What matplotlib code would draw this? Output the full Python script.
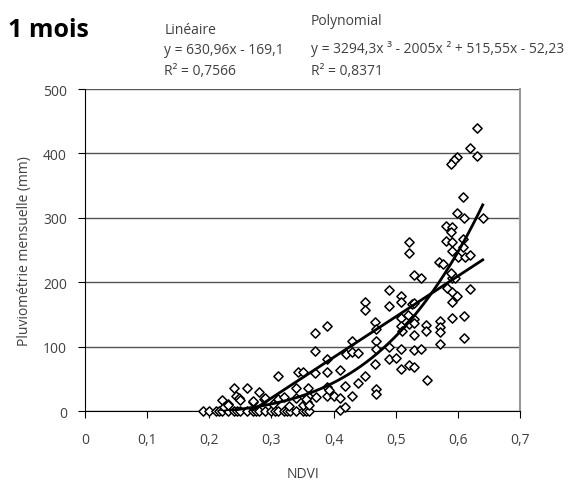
import numpy as np
import matplotlib
matplotlib.use("Agg")
import matplotlib.pyplot as plt

plt.rcParams['font.family'] = ['Open Sans', 'DejaVu Sans']

# NDVI values with zero rainfall
ndvi_zero = [0.19, 0.20, 0.21, 0.215, 0.22, 0.23, 0.24, 0.245, 0.25, 0.26, 0.27, 0.275,
             0.28, 0.29, 0.30, 0.305, 0.31, 0.32, 0.325, 0.33, 0.34, 0.35, 0.355, 0.36]

# other points (NDVI, pluviometry mm)
ndvi = [0.22, 0.224, 0.23, 0.23, 0.24, 0.243, 0.248, 0.25, 0.26, 0.27, 0.27, 0.28, 0.288, 0.29,
        0.302, 0.31, 0.31, 0.32, 0.329, 0.34, 0.34, 0.342, 0.351, 0.35, 0.358, 0.359, 0.359, 0.355,
        0.36, 0.37, 0.37, 0.37, 0.371, 0.39, 0.39, 0.39, 0.39, 0.39, 0.393, 0.40, 0.41, 0.41, 0.411,
        0.418, 0.419, 0.42, 0.43, 0.43, 0.43, 0.44, 0.44, 0.45, 0.451, 0.451, 0.467, 0.468, 0.468,
        0.468, 0.467, 0.468, 0.468, 0.489, 0.489, 0.489, 0.489, 0.50, 0.509, 0.509, 0.509, 0.509,
        0.51, 0.509, 0.509, 0.52, 0.521, 0.521, 0.521, 0.521, 0.526, 0.53, 0.54, 0.53, 0.53, 0.53,
        0.53, 0.53, 0.53, 0.54, 0.549, 0.549, 0.55, 0.569, 0.576, 0.571, 0.571, 0.571, 0.571,
        0.581, 0.59, 0.589, 0.581, 0.59, 0.59, 0.582, 0.591, 0.598, 0.59, 0.59, 0.59, 0.596, 0.589,
        0.60, 0.609, 0.609, 0.61, 0.598, 0.609, 0.612, 0.62, 0.62, 0.61, 0.61, 0.64, 0.631, 0.62,
        0.631, 0.599, 0.594, 0.589]
pluvio = [17, 6, 11, 9, 35, 23, 20, 17, 35, 14, 16, 29, 19, 20,
          11, 55, 18, 22, 8, 35, 20, 60, 60, 9, 14, 35, 24, 19,
          9, 121, 93, 59, 21, 132, 81, 61, 37, 23, 32, 24, 63, 20, 1,
          39, 6, 88, 109, 91, 23, 90, 44, 55, 169, 157, 138, 127, 109,
          97, 73, 34, 26, 188, 163, 99, 81, 83, 179, 170, 145, 132,
          124, 97, 66, 149, 135, 71, 262, 245, 166, 211, 206, 168, 143, 137,
          118, 94, 68, 97, 134, 124, 48, 232, 228, 140, 131, 122, 104,
          288, 285, 278, 264, 262, 249, 191, 185, 179, 170, 144, 207, 206, 215,
          239, 267, 254, 299, 308, 332, 239, 242, 190, 148, 114, 299, 439, 408,
          396, 395, 389, 383]

# trendline coefficients (from the chart labels)
lin_coef = [630.96, -169.1]
poly_coef = [3294.3, -2005, 515.55, -52.23]

x_all = np.array(ndvi_zero + ndvi)
y_all = np.array([0] * len(ndvi_zero) + pluvio)

fig = plt.figure(figsize=(5.76, 4.85), dpi=100)
ax = fig.add_axes([0.1476, 0.1505, 0.7552, 0.6639])

ax.set_xlim(0, 0.7)
ax.set_ylim(0, 500)
ax.set_xticks(np.arange(0, 0.71, 0.1))
ax.set_xticklabels(['0', '0,1', '0,2', '0,3', '0,4', '0,5', '0,6', '0,7'])
ax.set_yticks(range(0, 501, 100))
ax.yaxis.grid(True, color='#555555', linewidth=1)
ax.set_axisbelow(True)

ax.spines['top'].set_visible(False)
ax.spines['right'].set_color('#999999')
ax.spines['right'].set_linewidth(1.5)
ax.spines['left'].set_color('black')
ax.spines['bottom'].set_color('black')

ax.tick_params(axis='both', direction='out', length=5, color='black',
               labelsize=10, labelcolor='#404040')
ax.tick_params(axis='x', pad=10)
ax.tick_params(axis='y', pad=8)

ax.scatter(x_all, y_all, marker='D', s=22, facecolor='white', edgecolor='black',
           linewidth=1.1, zorder=3, clip_on=False)

xs = np.linspace(x_all.min(), x_all.max(), 200)
ax.plot(xs, np.polyval(lin_coef, xs), color='black', lw=2, zorder=4)
ax.plot(xs, np.polyval(poly_coef, xs), color='black', lw=2, zorder=4)

ax.set_xlabel('NDVI', fontsize=10, color='#404040', labelpad=14)
ax.set_ylabel('Pluviométrie mensuelle (mm)', fontsize=10, color='#404040', labelpad=8)

fig.text(0.014, 0.937, '1 mois', fontsize=18, fontweight='bold', color='black', va='center')
tc = '#404040'
fig.text(0.285, 0.938, 'Linéaire', fontsize=10, color=tc, va='center')
fig.text(0.285, 0.895, 'y = 630,96x - 169,1', fontsize=10, color=tc, va='center')
fig.text(0.285, 0.852, 'R² = 0,7566', fontsize=10, color=tc, va='center')
fig.text(0.540, 0.955, 'Polynomial', fontsize=10, color=tc, va='center')
fig.text(0.540, 0.899, 'y = 3294,3x ³ - 2005x ² + 515,55x - 52,23', fontsize=10, color=tc, va='center')
fig.text(0.540, 0.852, 'R² = 0,8371', fontsize=10, color=tc, va='center')

fig.savefig('out.png', dpi=100)
